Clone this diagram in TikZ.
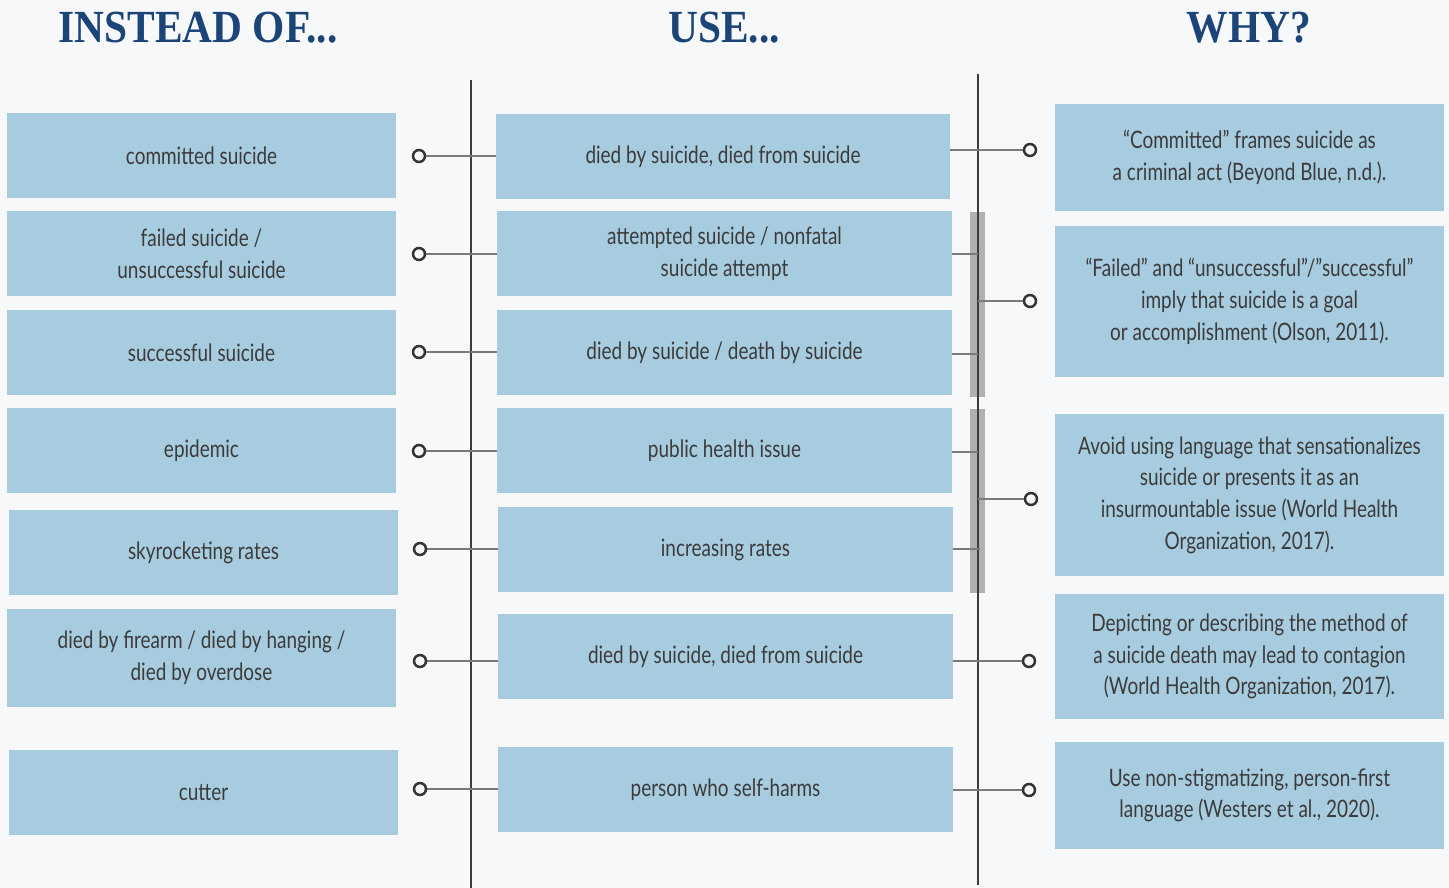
\documentclass[tikz,border=0pt]{standalone}
\usepackage{fontspec}
\setmainfont[FakeStretch=0.79]{Lato}
\newfontfamily\titlefont[FakeStretch=0.9]{Liberation Serif}
\definecolor{bg}{HTML}{F7F8FA}
\definecolor{boxblue}{HTML}{A8CCDF}
\definecolor{titleblue}{HTML}{1B4479}
\definecolor{txt}{HTML}{3B3B3B}
\definecolor{conngray}{HTML}{7A7A7A}
\definecolor{vline}{HTML}{3C3C3C}
\definecolor{bargray}{HTML}{B0B0B0}
\definecolor{ring}{HTML}{333333}
\tikzset{
  tbox/.style={fill=boxblue, inner sep=0pt, align=center, text=txt,
    font=\fontsize{24}{31.7}\selectfont},
  lbox/.style={tbox, minimum width=389pt, minimum height=85pt},
  mbox/.style={tbox, minimum width=455pt, minimum height=85pt},
  rbox/.style={tbox, minimum width=389pt},
  ttl/.style={text=titleblue, font=\titlefont\bfseries\fontsize{46}{50}\selectfont, inner sep=0pt, anchor=base},
  circ/.style={circle, draw=ring, line width=2.2pt, fill=bg, minimum size=12pt, inner sep=0pt},
  conn/.style={draw=conngray, line width=1.5pt},
  vrule/.style={draw=vline, line width=1.8pt},
  gbar/.style={fill=bargray, draw=none}
}
\begin{document}
\begin{tikzpicture}[x=1pt,y=-1pt]
\fill[bg] (0,0) rectangle (1449,888);
\useasboundingbox (0,0) rectangle (1449,888);

% titles
\node[ttl] (t1) at (198,43) {INSTEAD OF...};
\node[ttl] (t2) at (724,43) {USE...};
\node[ttl] (t3) at (1249,43) {WHY?};

% left boxes
\node[lbox] (l1) at (201.5,155.5) {committed suicide};
\node[lbox] (l2) at (201.5,253.5) {failed suicide /\\unsuccessful suicide};
\node[lbox] (l3) at (201.5,352.5) {successful suicide};
\node[lbox] (l4) at (201.5,450.5) {epidemic};
\node[lbox] (l5) at (203.5,552.5) {skyrocketing rates};
\node[lbox, minimum height=98pt] (l6) at (201.5,658) {died by firearm / died by hanging /\\died by overdose};
\node[lbox] (l7) at (203.5,792.5) {cutter};

% middle boxes
\node[mbox, minimum width=454pt] (m1) at (723,156.5) {died by suicide, died from suicide};
\node[mbox] (m2) at (724.5,253.5) {attempted suicide / nonfatal\\suicide attempt};
\node[mbox] (m3) at (724.5,352.5) {died by suicide / death by suicide};
\node[mbox] (m4) at (724.5,450.5) {public health issue};
\node[mbox] (m5) at (725.5,549.5) {increasing rates};
\node[mbox] (m6) at (725.5,656.5) {died by suicide, died from suicide};
\node[mbox] (m7) at (725.5,789.5) {person who self-harms};

% right boxes
\node[rbox, minimum height=107pt] (r1) at (1249.5,157.5) {“Committed” frames suicide as\\a criminal act (Beyond Blue, n.d.).};
\node[rbox, minimum height=151pt] (r2) at (1249.5,301.5) {“Failed” and “unsuccessful”/”successful”\\imply that suicide is a goal\\or accomplishment (Olson, 2011).};
\node[rbox, minimum height=162pt] (r3) at (1249.5,495) {Avoid using language that sensationalizes\\suicide or presents it as an\\insurmountable issue (World Health\\Organization, 2017).};
\node[rbox, minimum height=125pt] (r4) at (1249.5,656.5) {Depicting or describing the method of\\a suicide death may lead to contagion\\(World Health Organization, 2017).};
\node[rbox, minimum height=107pt] (r5) at (1249.5,795.5) {Use non-stigmatizing, person-first\\language (Westers et al., 2020).};

% gray bars
\fill[gbar] (970,212) rectangle (985,397);
\fill[gbar] (970,409) rectangle (985,593);

% vertical lines
\coordinate (vLt) at (471,80);
\coordinate (vLb) at (471,888);
\coordinate (vRt) at (978,74);
\coordinate (vRb) at (978,885);
\draw[vrule] (vLt) -- (vLb);
\draw[vrule] (vRt) -- (vRb);

% left circles
\node[circ] (cl1) at (419,156) {};
\node[circ] (cl2) at (419,254) {};
\node[circ] (cl3) at (419,352) {};
\node[circ] (cl4) at (419,451) {};
\node[circ] (cl5) at (420,549) {};
\node[circ] (cl6) at (420,661) {};
\node[circ] (cl7) at (420,789) {};

% right circles
\node[circ] (cr1) at (1030,150) {};
\node[circ] (cr2) at (1030,301) {};
\node[circ] (cr3) at (1031,499) {};
\node[circ] (cr4) at (1029,661) {};
\node[circ] (cr5) at (1029,790) {};

% junctions on right vertical line
\coordinate (j2) at (978,254);
\coordinate (j3) at (978,354);
\coordinate (j4) at (978,452);
\coordinate (j5) at (980,549);
\coordinate (jr2) at (978,301);
\coordinate (jr3) at (978,499);

% left connectors
\foreach \i in {1,...,7} {
  \draw[conn] (cl\i.east) -- (cl\i -| m\i.west);
}

% right connectors
\draw[conn] (cr1 -| m1.east) -- (cr1.west);
\draw[conn] (j2 -| m2.east) -- (j2);
\draw[conn] (j3 -| m3.east) -- (j3);
\draw[conn] (j4 -| m4.east) -- (j4);
\draw[conn] (j5 -| m5.east) -- (j5);
\draw[conn] (cr4 -| m6.east) -- (cr4.west);
\draw[conn] (cr5 -| m7.east) -- (cr5.west);
\draw[conn] (jr2) -- (cr2.west);
\draw[conn] (jr3) -- (cr3.west);

% redraw circles on top
\foreach \c in {cl1,cl2,cl3,cl4,cl5,cl6,cl7,cr1,cr2,cr3,cr4,cr5} {
  \draw[draw=ring, line width=2.2pt] (\c) circle (6pt);
}
\end{tikzpicture}
\end{document}
